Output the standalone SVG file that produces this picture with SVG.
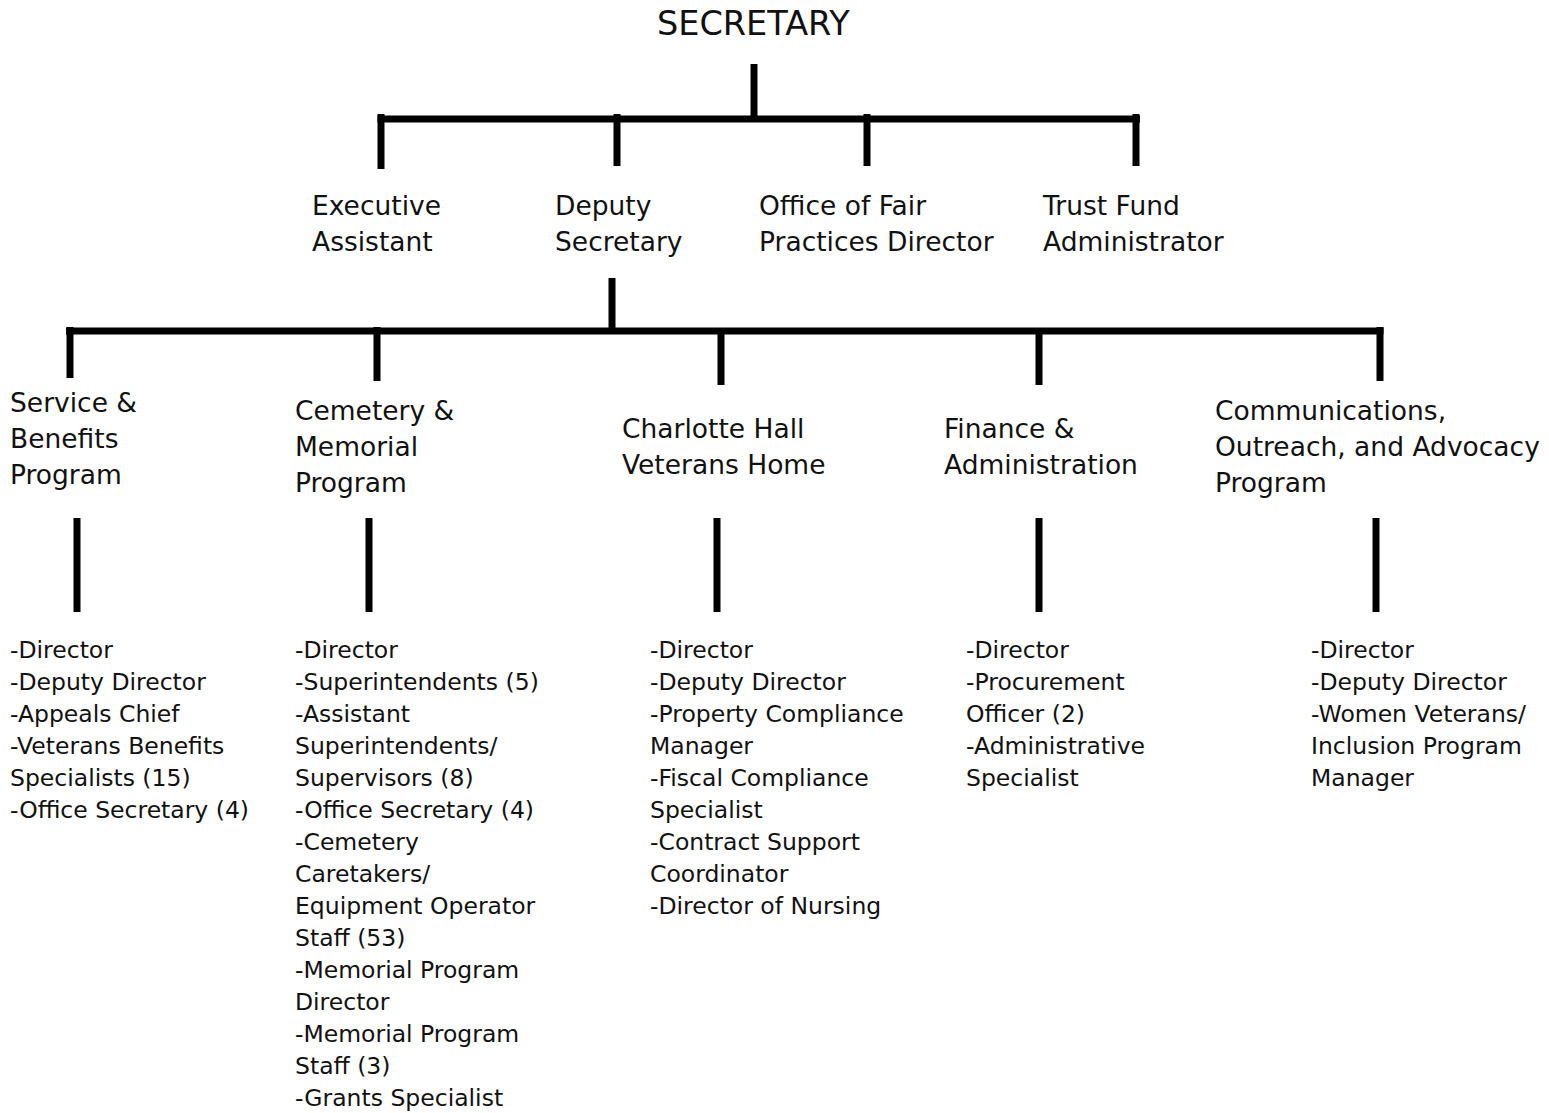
<svg xmlns="http://www.w3.org/2000/svg" width="1549" height="1113" viewBox="0 0 1549 1113">
<style>
text{font-family:"DejaVu Sans","Liberation Sans",sans-serif;fill:#111}
.t{font-size:33.5px}
.n{font-size:26.5px}
.b{font-size:23.5px}
.c line{stroke:#000;stroke-width:7;stroke-linecap:butt}
</style>
<rect width="1549" height="1113" fill="#fff"/>
<g class="c" id="connectors">
<line x1="754" y1="64" x2="754" y2="119"/>
<line x1="377.5" y1="119" x2="1140" y2="119"/>
<line x1="381" y1="114" x2="381" y2="169"/>
<line x1="617" y1="114" x2="617" y2="166"/>
<line x1="867" y1="114" x2="867" y2="166"/>
<line x1="1136" y1="114" x2="1136" y2="166"/>
<line x1="612" y1="278" x2="612" y2="331"/>
<line x1="66" y1="331" x2="1383.5" y2="331"/>
<line x1="70" y1="327" x2="70" y2="378"/>
<line x1="377" y1="327" x2="377" y2="381"/>
<line x1="721" y1="331" x2="721" y2="385"/>
<line x1="1039" y1="331" x2="1039" y2="385"/>
<line x1="1380" y1="327" x2="1380" y2="381"/>
<line x1="77" y1="518" x2="77" y2="612"/>
<line x1="369" y1="518" x2="369" y2="612"/>
<line x1="717" y1="518" x2="717" y2="612"/>
<line x1="1039" y1="518" x2="1039" y2="612"/>
<line x1="1376" y1="518" x2="1376" y2="612"/>
</g>
<g id="secretary"><text class="t" x="657" y="35">SECRETARY</text></g>
<g id="exec-assistant"><text class="n" x="312" y="215">Executive</text><text class="n" x="312" y="251">Assistant</text></g>
<g id="deputy-secretary"><text class="n" x="555" y="215">Deputy</text><text class="n" x="555" y="251">Secretary</text></g>
<g id="fair-practices"><text class="n" x="759" y="215">Office of Fair</text><text class="n" x="759" y="251">Practices Director</text></g>
<g id="trust-fund"><text class="n" x="1043" y="215">Trust Fund</text><text class="n" x="1043" y="251">Administrator</text></g>
<g id="service-benefits">
<text class="n" x="10" y="412">Service &amp;</text><text class="n" x="10" y="448">Benefits</text><text class="n" x="10" y="484">Program</text>
<text class="b"><tspan x="10" y="658">-Director</tspan><tspan x="10" y="690">-Deputy Director</tspan><tspan x="10" y="722">-Appeals Chief</tspan><tspan x="10" y="754">-Veterans Benefits</tspan><tspan x="10" y="786">Specialists (15)</tspan><tspan x="10" y="818">-Office Secretary (4)</tspan></text>
</g>
<g id="cemetery-memorial">
<text class="n" x="295" y="420">Cemetery &amp;</text><text class="n" x="295" y="456">Memorial</text><text class="n" x="295" y="492">Program</text>
<text class="b"><tspan x="295" y="658">-Director</tspan><tspan x="295" y="690">-Superintendents (5)</tspan><tspan x="295" y="722">-Assistant</tspan><tspan x="295" y="754">Superintendents/</tspan><tspan x="295" y="786">Supervisors (8)</tspan><tspan x="295" y="818">-Office Secretary (4)</tspan><tspan x="295" y="850">-Cemetery</tspan><tspan x="295" y="882">Caretakers/</tspan><tspan x="295" y="914">Equipment Operator</tspan><tspan x="295" y="946">Staff (53)</tspan><tspan x="295" y="978">-Memorial Program</tspan><tspan x="295" y="1010">Director</tspan><tspan x="295" y="1042">-Memorial Program</tspan><tspan x="295" y="1074">Staff (3)</tspan><tspan x="295" y="1106">-Grants Specialist</tspan></text>
</g>
<g id="charlotte-hall">
<text class="n" x="622" y="438">Charlotte Hall</text><text class="n" x="622" y="474">Veterans Home</text>
<text class="b"><tspan x="650" y="658">-Director</tspan><tspan x="650" y="690">-Deputy Director</tspan><tspan x="650" y="722">-Property Compliance</tspan><tspan x="650" y="754">Manager</tspan><tspan x="650" y="786">-Fiscal Compliance</tspan><tspan x="650" y="818">Specialist</tspan><tspan x="650" y="850">-Contract Support</tspan><tspan x="650" y="882">Coordinator</tspan><tspan x="650" y="914">-Director of Nursing</tspan></text>
</g>
<g id="finance-admin">
<text class="n" x="944" y="438">Finance &amp;</text><text class="n" x="944" y="474">Administration</text>
<text class="b"><tspan x="966" y="658">-Director</tspan><tspan x="966" y="690">-Procurement</tspan><tspan x="966" y="722">Officer (2)</tspan><tspan x="966" y="754">-Administrative</tspan><tspan x="966" y="786">Specialist</tspan></text>
</g>
<g id="communications">
<text class="n" x="1215" y="420">Communications,</text><text class="n" x="1215" y="456">Outreach, and Advocacy</text><text class="n" x="1215" y="492">Program</text>
<text class="b"><tspan x="1311" y="658">-Director</tspan><tspan x="1311" y="690">-Deputy Director</tspan><tspan x="1311" y="722">-Women Veterans/</tspan><tspan x="1311" y="754">Inclusion Program</tspan><tspan x="1311" y="786">Manager</tspan></text>
</g>
</svg>
